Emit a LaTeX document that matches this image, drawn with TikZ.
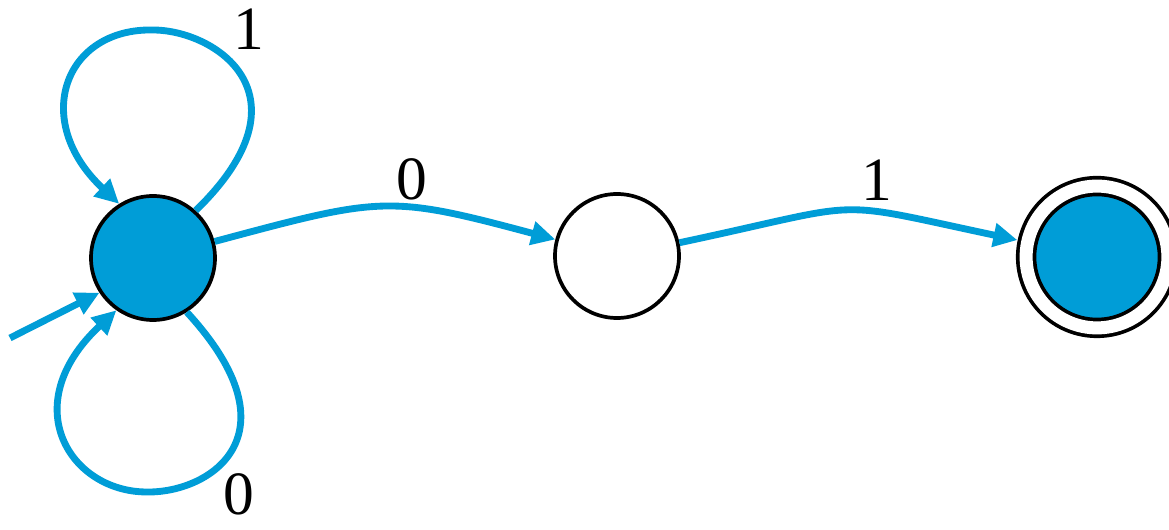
\documentclass[tikz,border=0pt]{standalone}
\usepackage{fontspec}
\setmainfont{Liberation Serif}
\usetikzlibrary{arrows.meta}
\definecolor{stateblue}{RGB}{0,157,215}

\begin{document}
\begin{tikzpicture}[>={Triangle[length=0.48cm,width=0.46cm]},
    state/.style={circle, draw=black, line width=2.1pt, minimum size=2.48cm, inner sep=0pt},
    edge/.style={->, draw=stateblue, line width=3.9pt},
    lbl/.style={inner sep=0pt, font=\fontsize{35}{40}\selectfont}]
    \useasboundingbox[fill=white] (0,0) rectangle (23.38,10.6);

    % States
    \node[state, fill=stateblue] (q0) at (3.06,5.44) {};
    \node[state, fill=white] (q1) at (12.34,5.48) {};
    \node[state, fill=stateblue, double, double distance=0.26cm,
          minimum size=2.836cm, outer sep=0.21cm] (q2) at (21.94,5.46) {};

    % Start arrow
    \coordinate (start) at (0.2,3.84);
    \draw[edge] (start) -- (q0.213);

    % Self-loops on q0
    \coordinate (toptip) at (3.06,10.0);
    \coordinate (bottip) at (2.94,0.76);
    \draw[edge] (q0.48) .. controls (6.3,8.7) and (4.3,10.0) .. (toptip)
        .. controls (1.3,10.04) and (0.6,8.2) .. (q0.122);
    \draw[edge] (q0.-58) .. controls (6.0,1.9) and (4.2,0.74) .. (bottip)
        .. controls (1.4,0.76) and (0.3,2.5) .. (q0.235);

    % Transitions
    \draw[edge] (q0) to[out=15, in=165, looseness=1.3] (q1);
    \draw[edge] (q1) to[out=12, in=168, looseness=1.5] (q2);

    % Labels
    \node[lbl] (l1top) at (4.98,10.02) {1};
    \node[lbl] (l0bot) at (4.78,0.72) {0};
    \node[lbl] (l0mid) at (8.24,7.02) {0};
    \node[lbl] (l1mid) at (17.54,7.0) {1};
\end{tikzpicture}
\end{document}
